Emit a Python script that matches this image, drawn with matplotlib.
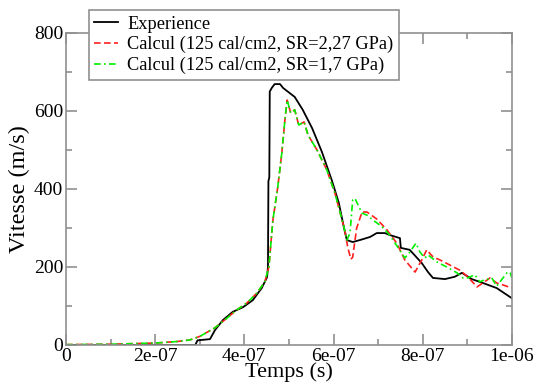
import numpy as np
import matplotlib
matplotlib.use("Agg")
import matplotlib.pyplot as plt
from matplotlib.ticker import MultipleLocator

# times in microseconds, converted to seconds below
exp_t = [0.0, 0.29, 0.295, 0.323, 0.334, 0.352, 0.374, 0.397, 0.419, 0.439, 0.451,
         0.453, 0.454, 0.456, 0.457, 0.462, 0.468, 0.48, 0.487, 0.513, 0.531, 0.552,
         0.574, 0.596, 0.612, 0.623, 0.630, 0.643, 0.659, 0.682, 0.697, 0.715, 0.726,
         0.749, 0.751, 0.771, 0.798, 0.812, 0.823, 0.850, 0.861, 0.872, 0.888, 0.895,
         0.910, 0.935, 0.966, 1.0]
exp_v = [0, 0, 12, 15, 38, 64, 85, 97, 115, 146, 174,
         200, 420, 430, 650, 660, 669, 669, 659, 636, 603, 556,
         495, 423, 364, 303, 269, 264, 269, 277, 287, 287, 282,
         274, 249, 244, 210, 187, 172, 169, 172, 175, 185, 180,
         169, 159, 146, 120]

# shared early part of the two computations
early_t = [0.0, 0.1, 0.2, 0.25, 0.278, 0.30, 0.334, 0.361, 0.383, 0.406, 0.428,
           0.446, 0.455, 0.464, 0.475, 0.484, 0.491, 0.496, 0.504, 0.513, 0.522,
           0.534, 0.543, 0.563, 0.585, 0.603, 0.621, 0.626]
early_v = [1, 2, 5, 9, 13, 22, 44, 69, 90, 108, 133,
           162, 200, 320, 405, 492, 577, 628, 595, 603, 564,
           572, 538, 500, 449, 390, 313, 290]

red_t = early_t + [0.632, 0.639, 0.643, 0.652, 0.664, 0.675, 0.697, 0.720, 0.742,
                   0.760, 0.783, 0.798, 0.809, 0.823, 0.839, 0.861, 0.883, 0.901,
                   0.922, 0.935, 0.951, 0.966, 0.980, 1.0]
red_v = early_v + [250, 220, 225, 300, 341, 341, 323, 295, 261,
                   218, 187, 218, 244, 226, 218, 205, 192, 175,
                   149, 159, 172, 159, 154, 146]

green_t = early_t + [0.630, 0.637, 0.643, 0.648, 0.664, 0.675, 0.688, 0.709, 0.726,
                     0.744, 0.760, 0.771, 0.785, 0.794, 0.805, 0.812, 0.832, 0.854,
                     0.877, 0.890, 0.901, 0.917, 0.928, 0.939, 0.955, 0.966, 0.989,
                     0.996, 1.0]
green_v = early_v + [269, 287, 372, 376, 338, 333, 321, 303, 282,
                     251, 223, 238, 261, 238, 223, 231, 213, 200,
                     185, 172, 172, 180, 162, 167, 172, 151, 185,
                     187, 172]

labels = ["Experience", "Calcul (125 cal/cm2, SR=2,27 GPa)",
          "Calcul (125 cal/cm2, SR=1,7 GPa)"]

plt.rcParams['font.family'] = ['Liberation Serif', 'DejaVu Serif']

fig = plt.figure(figsize=(5.35, 3.85), dpi=100)
ax = fig.add_axes([0.1234, 0.1039, 0.8333, 0.8104])

us = 1e-6
ax.plot(np.array(exp_t) * us, exp_v, color='black', lw=1.3, label=labels[0])
ax.plot(np.array(red_t) * us, red_v, color='#ff2020', lw=1.2,
        dashes=(4, 2), label=labels[1])
ax.plot(np.array(green_t) * us, green_v, color='#00ee00', lw=1.2,
        dashes=(4, 2, 1, 2), label=labels[2])

ax.set_xlim(0, 1e-6)
ax.set_ylim(0, 800)
ax.set_xticks([0, 2e-7, 4e-7, 6e-7, 8e-7, 1e-6])
ax.set_xticklabels(["0", "2e-07", "4e-07", "6e-07", "8e-07", "1e-06"])
ax.xaxis.set_minor_locator(MultipleLocator(1e-7))
ax.yaxis.set_major_locator(MultipleLocator(200))
ax.yaxis.set_minor_locator(MultipleLocator(100))
ax.tick_params(which='both', direction='in', top=True, right=True,
               color='#909090', width=1.2, labelsize=14, pad=2)
ax.tick_params(which='major', length=8)
ax.tick_params(which='minor', length=4)
for sp in ax.spines.values():
    sp.set_color('#909090')
    sp.set_linewidth(1.2)

ax.set_xlabel("Temps (s)", fontsize=16, labelpad=-2)
ax.set_ylabel("Vitesse (m/s)", fontsize=17.5, labelpad=3)

leg = ax.legend(loc='upper left', bbox_to_anchor=(0.166, 0.974),
                bbox_transform=fig.transFigure, borderaxespad=0,
                fontsize=13.2, handlelength=1.3, handletextpad=0.5,
                labelspacing=0.2, borderpad=0.3, fancybox=False,
                framealpha=1, edgecolor='#909090')
leg.get_frame().set_linewidth(1.2)

fig.savefig("out.png", dpi=100)
